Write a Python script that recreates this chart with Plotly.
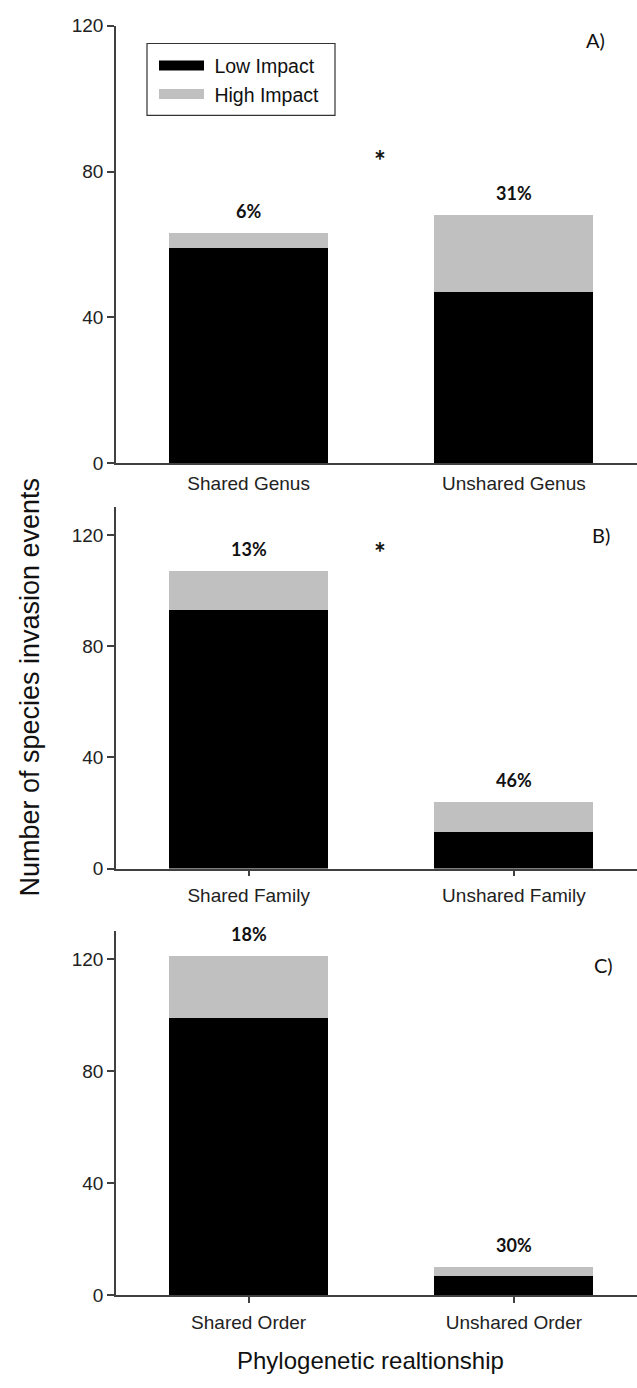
import plotly.graph_objects as go

# Invasion events split by impact, for three levels of phylogenetic relatedness
cats_genus = ["Shared Genus", "Unshared Genus"]
low_genus = [59, 47]
high_genus = [4, 21]

cats_family = ["Shared Family", "Unshared Family"]
low_family = [93, 13]
high_family = [14, 11]

cats_order = ["Shared Order", "Unshared Order"]
low_order = [99, 7]
high_order = [22, 3]

panel_tags = ["A)", "B)", "C)"]
y_tick_vals = [0, 40, 80, 120]
y_limits = [120, 130, 130]
significant = [True, True, False]

LOW_COLOR = "#000000"
HIGH_COLOR = "#c0c0c0"
AXIS_COLOR = "#404040"
SANS = "Liberation Sans, Arial, sans-serif"
LABEL_FONT = "Lato, Carlito, sans-serif"

W, H = 637, 1388


def py(pixel_y):
    """Convert a pixel row into a paper coordinate."""
    return 1 - pixel_y / H


# vertical extent (pixel rows) of each panel: top of y axis, zero line
panel_rows = [(16, 460), (505, 871.7), (935, 1305)]
x_domain = [116 / W, 1.0]

panels = [
    (cats_genus, low_genus, high_genus),
    (cats_family, low_family, high_family),
    (cats_order, low_order, high_order),
]

fig = go.Figure()
layout = dict(
    width=W,
    height=H,
    margin=dict(l=0, r=0, t=0, b=0),
    paper_bgcolor="white",
    plot_bgcolor="white",
    barmode="stack",
    bargap=0.4,
    showlegend=True,
    annotations=[],
    shapes=[],
)

for i, (cats, low, high) in enumerate(panels):
    n = "" if i == 0 else str(i + 1)
    xa, ya = "x" + n, "y" + n
    fig.add_trace(go.Bar(x=cats, y=low, name="Low Impact", marker=dict(color=LOW_COLOR, line=dict(width=0)),
                         xaxis=xa, yaxis=ya, showlegend=False))
    fig.add_trace(go.Bar(x=cats, y=high, name="High Impact", marker=dict(color=HIGH_COLOR, line=dict(width=0)),
                         xaxis=xa, yaxis=ya, showlegend=False))

    top, bottom = panel_rows[i]
    layout["xaxis" + n] = dict(
        domain=x_domain,
        anchor=ya,
        type="category",
        categoryorder="array",
        categoryarray=cats,
        range=[-0.5, 1.464],
        showline=True,
        linecolor=AXIS_COLOR,
        linewidth=1.5,
        ticks="" if i == 0 else "outside",
        ticklen=6,
        tickcolor=AXIS_COLOR,
        tickwidth=1.5,
        ticklabelstandoff=2 if i == 0 else 3,
        tickfont=dict(family=SANS, size=19, color="#222"),
        showgrid=False,
        zeroline=False,
        fixedrange=True,
    )
    layout["yaxis" + n] = dict(
        domain=[py(bottom), py(top)],
        anchor=xa,
        range=[0, y_limits[i]],
        tickvals=y_tick_vals,
        showline=True,
        linecolor=AXIS_COLOR,
        linewidth=1.5,
        ticks="outside",
        ticklen=7,
        tickcolor=AXIS_COLOR,
        tickwidth=1.5,
        tickfont=dict(family=SANS, size=19, color="#222"),
        showgrid=False,
        zeroline=False,
        fixedrange=True,
    )

    # percentage of high-impact events above each stacked bar
    for c, lo, hi in zip(cats, low, high):
        total = lo + hi
        pct = round(100 * hi / total)
        layout["annotations"].append(dict(
            x=c, y=total, xref=xa, yref=ya, text=f"<b>{pct}%</b>",
            showarrow=False, yanchor="middle", yshift=22,
            font=dict(family=LABEL_FONT, size=18, color="#111"),
        ))

    # panel tag
    tag_pos = [(595, 30), (601, 533), (603, 970)][i]
    layout["annotations"].append(dict(
        x=tag_pos[0] / W, y=py(tag_pos[1]), xref="paper", yref="paper",
        text=panel_tags[i], showarrow=False, xanchor="center", yanchor="middle",
        font=dict(family=LABEL_FONT, size=20, color="#111"),
    ))

# significance markers between the two bars
star_rows = [152, 550]
for i, row in enumerate(star_rows):
    if not significant[i]:
        continue
    layout["annotations"].append(dict(
        x=380 / W, y=py(row), xref="paper", yref="paper", text="<b>*</b>",
        showarrow=False, xanchor="center", yanchor="middle",
        font=dict(family=LABEL_FONT, size=28, color="#111"),
    ))

# legend entries drawn as wide swatches
fig.add_trace(go.Scatter(x=[None], y=[None], mode="lines", name="\u00a0Low Impact",
                         line=dict(color=LOW_COLOR, width=12), xaxis="x", yaxis="y"))
fig.add_trace(go.Scatter(x=[None], y=[None], mode="lines", name="\u00a0High Impact",
                         line=dict(color=HIGH_COLOR, width=12), xaxis="x", yaxis="y"))

layout["legend"] = dict(
    x=154 / W, y=py(37), xanchor="left", yanchor="top",
    borderwidth=0, bgcolor="rgba(0,0,0,0)",
    font=dict(family=SANS, size=19.5, color="#111"),
    itemwidth=45, tracegroupgap=0, traceorder="normal",
)
# frame around the legend
layout["shapes"].append(dict(
    type="rect", xref="paper", yref="paper",
    x0=147 / W, x1=335 / W, y0=py(107), y1=py(34),
    line=dict(color="#333", width=1.2), fillcolor="rgba(0,0,0,0)", layer="above",
))

# shared axis titles
layout["annotations"].append(dict(
    x=30 / W, y=py(688), xref="paper", yref="paper",
    text="Number of species invasion events", textangle=-90,
    showarrow=False, xanchor="center", yanchor="middle",
    font=dict(family=SANS, size=27, color="#111"),
))
layout["annotations"].append(dict(
    x=370 / W, y=py(1371.7), xref="paper", yref="paper",
    text="Phylogenetic realtionship",
    showarrow=False, xanchor="center", yanchor="middle",
    font=dict(family=SANS, size=24, color="#111"),
))

fig.update_layout(**layout)
fig.write_html("out.html")
